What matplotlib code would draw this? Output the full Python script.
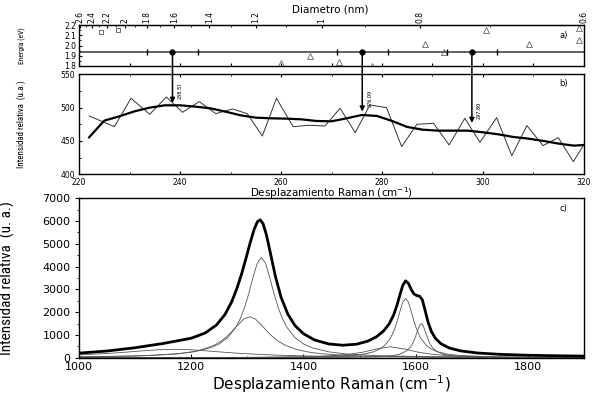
import matplotlib
matplotlib.use('Agg')
import matplotlib.pyplot as plt
from matplotlib import font_manager
from matplotlib.patches import ConnectionPatch
from matplotlib.ticker import MultipleLocator, FixedLocator, FormatStrFormatter
import numpy as np

# pick a narrow face for the axis titles if one is installed
_names = {f.name for f in font_manager.fontManager.ttflist}
_cond = [f for f in font_manager.fontManager.ttflist
         if f.name == 'DejaVu Sans' and f.stretch == 'condensed']
if 'Liberation Sans Narrow' in _names:
    NARROW = dict(family='Liberation Sans Narrow')
elif 'Roboto Condensed' in _names:
    NARROW = dict(family='Roboto Condensed')
elif _cond:
    NARROW = dict(family='DejaVu Sans', fontstretch='condensed')
else:
    NARROW = dict(family='Liberation Sans')

# ---- panel a: resonance points ----
sq_x = [224.3, 227.8]
sq_e = [2.13, 2.15]
tri_x = [260.0, 265.7, 271.5, 278.0, 288.5, 292.2, 300.6, 309.2, 319.0, 319.0]
tri_e = [1.83, 1.90, 1.84, 1.80, 2.01, 1.94, 2.15, 2.01, 2.17, 2.05]
laser_e = 1.94
rbm_peaks = [238.51, 276.09, 297.80]
rbm_tips = [507, 494, 477]
rbm_labels = ['238.51', '276.09', '297.80']
diam_ticks = [2.6, 2.4, 2.2, 2.0, 1.8, 1.6, 1.4, 1.2, 1.0, 0.8, 0.6]
diam_labels = ['2.6', '2.4', '2.2', '2', '1.8', '1.6', '1.4', '1.2', '1', '0.8', '0.6']
diam_minor = [2.5, 2.3, 2.1, 1.9, 1.7, 1.5, 1.3, 1.1, 0.9, 0.7]

# ---- panel b: RBM region ----
rbm_x = [222.0, 227.0, 230.3, 234.0, 237.3, 240.5, 243.8, 247.1, 250.4, 253.3,
         256.3, 259.1, 262.4, 265.5, 268.7, 271.7, 274.7, 277.6, 280.9, 283.9,
         286.9, 290.2, 293.3, 296.4, 299.4, 302.7, 305.7, 308.7, 311.9, 314.9,
         317.9, 320.0]
rbm_y = [487.5, 471.5, 514, 490, 516, 493, 509, 491, 498, 491,
         457.5, 514, 471.5, 473.5, 472.5, 499, 462.5, 504, 500, 441.5,
         475, 476.5, 444, 484, 448, 485, 428, 473, 443, 455,
         419, 445]
smooth_x = [222, 225, 228, 231, 234, 237, 240, 243, 246, 249, 252, 255, 258, 261,
            264, 267, 270, 273, 276, 279, 282, 285, 288, 291, 294, 297, 300, 303,
            306, 309, 312, 315, 318, 320]
smooth_y = [455.5, 480.5, 487, 494.5, 500, 503.5, 503.5, 501.5, 499, 494, 488.5,
            485, 484, 483.5, 482.5, 480, 479.5, 484, 489, 487.5, 480, 471, 467,
            465.5, 465.5, 465.5, 463, 460, 456, 453.5, 450, 446, 443, 444]

# ---- panel c: D and G bands with fitted components ----
tot_x = [1000, 1050, 1100, 1150, 1200, 1225, 1245, 1260, 1272, 1282, 1290, 1298,
         1305, 1312, 1318, 1323, 1328, 1334, 1341, 1350, 1360, 1372, 1385, 1400,
         1420, 1445, 1470, 1495, 1515, 1530, 1543, 1553, 1561, 1567, 1572, 1577,
         1582, 1587, 1592, 1597, 1602, 1607, 1612, 1617, 1622, 1628, 1635, 1645,
         1660, 1680, 1710, 1750, 1800, 1850, 1900]
tot_y = [202, 295, 438, 625, 856, 1086, 1438, 1892, 2450, 3083, 3700, 4400,
         5043, 5629, 5975, 6054, 5884, 5396, 4603, 3571, 2663, 1919, 1409, 1054,
         778, 604, 548, 594, 731, 918, 1177, 1493, 1895, 2329, 2767, 3176,
         3374, 3268, 3000, 2800, 2730, 2700, 2537, 2059, 1572, 1155, 856, 614,
         426, 300, 207, 148, 108, 86, 71]

d1_x = [1000, 1115, 1175, 1205, 1235, 1250, 1265, 1280, 1287.5, 1295, 1302.5,
        1310, 1317.5, 1325, 1332.5, 1340, 1347.5, 1355, 1362.5, 1370, 1385, 1400,
        1415, 1445, 1475, 1535, 1625, 1721, 1900]
d1_y = [37, 88, 169, 259, 440, 607, 880, 1354, 1717, 2200, 2816,
        3520, 4141, 4400, 4141, 3520, 2816, 2200, 1717, 1354, 880, 607,
        440, 259, 169, 88, 44, 25, 12]
d2_x = [1000, 1094, 1136, 1178, 1199, 1220, 1241, 1251.5, 1262, 1272.5, 1283,
        1293.5, 1304, 1314.5, 1325, 1335.5, 1346, 1356.5, 1367, 1388, 1409, 1430,
        1472, 1514, 1598, 1724, 1900]
d2_y = [34, 69, 106, 180, 248, 360, 554, 702, 900, 1152, 1440,
        1694, 1800, 1694, 1440, 1152, 900, 702, 554, 360, 248, 180,
        106, 69, 36, 18, 9]
bg_x = [1000, 1050, 1080, 1110, 1140, 1170, 1200, 1230, 1260, 1290, 1350, 1410,
        1470, 1530, 1650, 1780, 1900]
bg_y = [123, 185, 237, 296, 348, 370, 348, 296, 237, 185, 114, 74,
        51, 37, 22, 14, 10]
g1_x = [1000, 1300, 1430, 1487, 1506, 1525, 1534.5, 1544, 1553.5, 1558.2, 1563,
        1567.8, 1572.5, 1577.2, 1582, 1586.8, 1591.5, 1596.2, 1601, 1605.8, 1610.5,
        1620, 1629.5, 1639, 1658, 1677, 1734, 1800, 1900]
g1_y = [3, 12, 40, 100, 153, 260, 359, 520, 800, 1014, 1300,
        1664, 2080, 2447, 2600, 2447, 2080, 1664, 1300, 1014, 800,
        520, 359, 260, 153, 100, 40, 20, 9]
g2_x = [1000, 1400, 1480, 1532, 1558, 1571, 1584, 1590.5, 1593.8, 1597, 1600.2,
        1603.5, 1606.8, 1610, 1613.2, 1616.5, 1619.8, 1623, 1626.2, 1629.5, 1636,
        1649, 1662, 1688, 1740, 1900]
g2_y = [1, 6, 15, 41, 88, 150, 300, 462, 585, 750, 960,
        1200, 1412, 1500, 1412, 1200, 960, 750, 585, 462, 300,
        150, 88, 41, 15, 3]
g3_x = [1000, 1200, 1305, 1355, 1405, 1430, 1455, 1480, 1505, 1530, 1555, 1580,
        1605, 1630, 1655, 1705, 1755, 1805, 1900]
g3_y = [4, 9, 18, 28, 48, 66, 96, 148, 240, 384, 480, 384,
        240, 148, 96, 48, 28, 18, 10]

fig = plt.figure(figsize=(5.95, 3.94), dpi=100)
ax_a = fig.add_axes([0.1328, 0.8325, 0.8487, 0.104])
ax_b = fig.add_axes([0.1328, 0.5576, 0.8487, 0.2538])
ax_c = fig.add_axes([0.1328, 0.0921, 0.8487, 0.4046])

for ax in (ax_a, ax_b, ax_c):
    for s in ax.spines.values():
        s.set_linewidth(1.0)

# ---------- a) ----------
ax_a.axhline(laser_e, color='#555555', lw=1.3, zorder=1)
ax_a.plot(sq_x, sq_e, 's', mfc='none', mec='#555555', ms=3.5, mew=0.6)
ax_a.plot(tri_x, tri_e, '^', mfc='none', mec='#666666', ms=4, mew=0.6)
ax_a.errorbar(rbm_peaks, [laser_e] * 3, xerr=5, fmt='o', color='black', ms=3.5,
              elinewidth=0, capsize=2, capthick=1, zorder=4)
ax_a.set_xlim(220, 320)
ax_a.set_ylim(1.8, 2.2)
ax_a.xaxis.set_major_locator(MultipleLocator(10))
ax_a.set_xticklabels([])
ax_a.yaxis.set_major_locator(MultipleLocator(0.1))
ax_a.yaxis.set_minor_locator(MultipleLocator(0.05))
ax_a.yaxis.set_major_formatter(FormatStrFormatter('%.1f'))
ax_a.tick_params(axis='x', direction='in', length=2.5, top=False, bottom=True)
ax_a.tick_params(axis='y', direction='in', length=2.5, labelsize=5.5, pad=2)
ax_a.tick_params(axis='y', which='minor', direction='in', length=1.5)
ylab_a = ax_a.set_ylabel('Energía (eV)', fontsize=6, **NARROW)
ax_a.yaxis.set_label_coords(-0.105, 0.5)
ax_a.text(0.96, 0.68, 'a)', transform=ax_a.transAxes, fontsize=6, ha='center')

A_D, B_D = 77.85, 190.2


def w2d(w):
    return A_D / np.maximum(np.asarray(w, float) - B_D, 1e-6)


def d2w(d):
    return A_D / np.maximum(np.asarray(d, float), 1e-6) + B_D


sec = ax_a.secondary_xaxis('top', functions=(w2d, d2w))
sec.xaxis.set_major_locator(FixedLocator(diam_ticks))
sec.xaxis.set_minor_locator(FixedLocator(diam_minor))
sec.set_xticklabels(diam_labels)
sec.tick_params(direction='in', labelsize=5.5, labelrotation=90, length=2.5, pad=1.5)
sec.tick_params(which='minor', direction='in', length=1.5)
fig.text(330 / 595, 1 - 9 / 394, 'Diametro (nm)', fontsize=7.5, ha='center', va='center')

# ---------- b) ----------
ax_b.plot(rbm_x, rbm_y, color='#333333', lw=0.7)
ax_b.plot(smooth_x, smooth_y, color='black', lw=1.6)
ax_b.set_xlim(220, 320)
ax_b.set_ylim(400, 550)
ax_b.xaxis.set_major_locator(MultipleLocator(20))
ax_b.xaxis.set_minor_locator(MultipleLocator(10))
ax_b.yaxis.set_major_locator(MultipleLocator(50))
ax_b.yaxis.set_minor_locator(MultipleLocator(25))
ax_b.tick_params(direction='in', length=2.5, labelsize=5.5, top=True)
ax_b.tick_params(axis='x', pad=2.5)
ax_b.tick_params(axis='y', pad=3)
ax_b.tick_params(which='minor', direction='in', length=1.5, top=True)
ax_b.set_xlabel('Desplazamiento Raman (cm$^{-1}$)', fontsize=7.5)
ax_b.xaxis.set_label_coords(0.5, -0.11)
ylab_b = ax_b.set_ylabel('Intensidad relativa  (u.a.)', fontsize=7, **NARROW)
ax_b.yaxis.set_label_coords(-0.105, 0.5)
ax_b.text(0.96, 0.88, 'b)', transform=ax_b.transAxes, fontsize=6, ha='center')

for x, tip, lab in zip(rbm_peaks, rbm_tips, rbm_labels):
    con = ConnectionPatch(xyA=(x, laser_e), coordsA=ax_a.transData,
                          xyB=(x, tip), coordsB=ax_b.transData,
                          arrowstyle='-|>', mutation_scale=7, lw=1.1,
                          color='black', shrinkA=0, shrinkB=0, zorder=5)
    fig.add_artist(con)
    ax_b.text(x + 1.5, tip + 32, lab, rotation=90, ha='center', va='top',
              fontsize=4.5, **NARROW)

# ---------- c) ----------
comp_color = '#555555'
for cx, cy in ((d1_x, d1_y), (d2_x, d2_y), (bg_x, bg_y),
               (g1_x, g1_y), (g2_x, g2_y), (g3_x, g3_y)):
    ax_c.plot(cx, cy, color=comp_color, lw=0.6)
ax_c.plot(tot_x, tot_y, color='black', lw=2.0)
ax_c.set_xlim(1000, 1900)
ax_c.set_ylim(0, 7000)
ax_c.xaxis.set_major_locator(MultipleLocator(200))
ax_c.xaxis.set_minor_locator(MultipleLocator(100))
ax_c.yaxis.set_major_locator(MultipleLocator(1000))
ax_c.yaxis.set_minor_locator(MultipleLocator(500))
ax_c.tick_params(axis='both', labelsize=8)
ax_c.tick_params(axis='y', direction='out', length=3, pad=3)
ax_c.tick_params(axis='y', which='minor', direction='out', length=1.5)
ax_c.tick_params(axis='x', direction='in', length=3, pad=3)
ax_c.tick_params(axis='x', which='minor', direction='in', length=1.5)
ax_c.set_xlabel('Desplazamiento Raman (cm$^{-1}$)', fontsize=11)
ax_c.xaxis.set_label_coords(0.5, -0.095)
ylab_c = ax_c.set_ylabel('Intensidad relativa  (u. a.)', fontsize=11, **NARROW)
ax_c.yaxis.set_label_coords(-0.127, 0.5)
ax_c.text(0.96, 0.92, 'c)', transform=ax_c.transAxes, fontsize=6, ha='center')

# shrink the rotated axis titles to the length they have in the original
fig.canvas.draw()
_r = fig.canvas.get_renderer()
for lab, target in ((ylab_a, 37), (ylab_b, 88), (ylab_c, 156)):
    h = lab.get_window_extent(_r).height
    if h > target:
        lab.set_fontsize(lab.get_fontsize() * target / h)

fig.savefig('out.png', dpi=100)
